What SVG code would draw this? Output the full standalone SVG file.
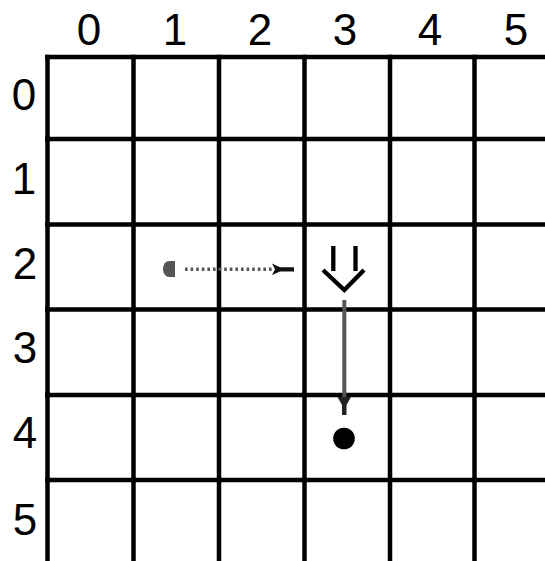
<svg xmlns="http://www.w3.org/2000/svg" width="545" height="561" viewBox="0 0 545 561">
<style>
.grid line{stroke:#000;stroke-width:4.5}
.lbl{font-family:"Liberation Sans",Arial,sans-serif;font-size:44px;fill:#000;text-anchor:middle}
</style>
<rect width="545" height="561" fill="#fff"/>
<g class="grid" id="grid">
<line x1="45" y1="57" x2="545" y2="57"/>
<line x1="45" y1="139" x2="545" y2="139"/>
<line x1="45" y1="224.5" x2="545" y2="224.5"/>
<line x1="45" y1="309.5" x2="545" y2="309.5"/>
<line x1="45" y1="395" x2="545" y2="395"/>
<line x1="45" y1="480" x2="545" y2="480"/>
<line x1="47.5" y1="54.8" x2="47.5" y2="561"/>
<line x1="133.5" y1="54.8" x2="133.5" y2="561"/>
<line x1="219" y1="54.8" x2="219" y2="561"/>
<line x1="304.5" y1="54.8" x2="304.5" y2="561"/>
<line x1="390" y1="54.8" x2="390" y2="561"/>
<line x1="474.5" y1="54.8" x2="474.5" y2="561"/>
</g>
<g id="col-labels">
<text class="lbl" x="89" y="45">0</text>
<text class="lbl" x="175" y="45">1</text>
<text class="lbl" x="260" y="45">2</text>
<text class="lbl" x="345" y="45">3</text>
<text class="lbl" x="430" y="45">4</text>
<text class="lbl" x="516" y="45">5</text>
</g>
<g id="row-labels">
<text class="lbl" x="24" y="110">0</text>
<text class="lbl" x="24" y="194">1</text>
<text class="lbl" x="25" y="279">2</text>
<text class="lbl" x="25" y="363">3</text>
<text class="lbl" x="25" y="448">4</text>
<text class="lbl" x="25" y="535">5</text>
</g>
<g id="start-cap">
<path d="M175 261 L169 261 A6 8 0 0 0 169 277 L175 277 Z" fill="#555"/>
</g>
<g id="down-arrow">
<path d="M333.3 246 V271 M355.5 246 V271 M323 270 L344.3 290 L364 270" fill="none" stroke="#000" stroke-width="4.3"/>
</g>
<g id="target-dot">
<circle cx="344" cy="438.5" r="10.8" fill="#000"/>
</g>
<g id="connectors">
<line x1="185" y1="269.3" x2="272" y2="269.3" stroke="#555" stroke-width="3.5" stroke-dasharray="2.6 3"/>
<path d="M272 263.5 L280 267.3 L294 267.3 L294 271.5 L280 271.5 L272 275 L275 269.3 Z" fill="#111"/>
<line x1="344.3" y1="300" x2="344.3" y2="398" stroke="#555" stroke-width="4"/>
<path d="M337.5 397 L351 397 L346.5 405 L346.5 415 L342 415 L342 405 Z" fill="#222"/>
</g>
</svg>
